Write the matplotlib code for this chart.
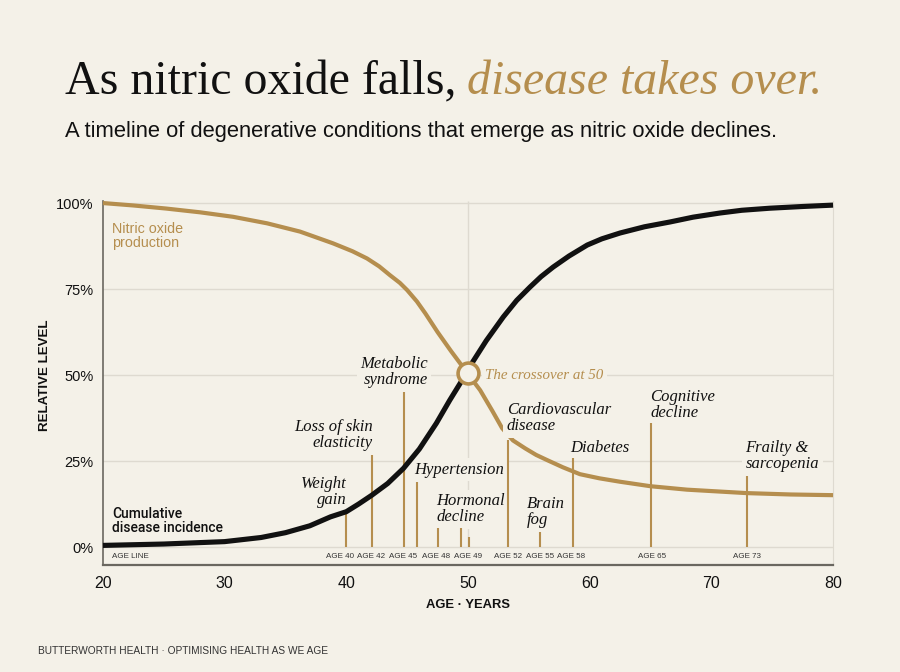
import matplotlib.pyplot as plt

# colours
bg = '#F4F1E8'
gold = '#B58E4E'
ink = '#111111'
grid = '#DEDAD0'

# nitric oxide production (% of peak)
no_age = [20, 22.5, 25.2, 28, 30.7, 33.5, 36.2, 38.9, 40.5, 41.7, 42.7, 43.6, 44.4, 45,
          45.8, 46.5, 47.5, 48.6, 49.4, 50, 51, 52, 52.8, 53.7, 54.7, 55.6, 56.5, 57.8,
          59.2, 60.8, 62.5, 65, 68, 72.9, 76.5, 80]
no_level = [100, 99.3, 98.4, 97.3, 96.0, 94.1, 91.7, 88.3, 86.0, 83.9, 81.6, 79.0, 76.8,
            74.7, 71.4, 67.9, 62.5, 57.0, 53.2, 50.3, 45.6, 39.6, 34.6, 31.0, 28.7, 26.8,
            25.3, 23.2, 21.2, 20.0, 19.0, 17.7, 16.7, 15.7, 15.3, 15.1]

# cumulative disease incidence (%)
inc_age = [20, 25, 30, 33, 35, 37, 38.7, 40, 41, 42.1, 43.4, 44.7, 46, 47.4, 48.5, 49.6,
           50.4, 51.5, 52.9, 54, 55.1, 56, 57, 58.3, 59.8, 61, 62.5, 64.5, 66.6, 68.5,
           70.7, 72.5, 74.8, 77.5, 80]
inc_level = [0.5, 0.9, 1.6, 2.8, 4.2, 6.2, 8.8, 10.3, 12.5, 15.1, 18.5, 22.9, 28.5, 36.0,
             42.7, 49.0, 53.9, 60.0, 66.9, 71.7, 75.6, 78.6, 81.4, 84.6, 87.8, 89.6, 91.3,
             93.1, 94.5, 95.9, 97.1, 97.9, 98.5, 99.0, 99.4]

cross_age = 50
cross_level = 50.5

# onset markers (stems)
marker_x = [40.0, 42.1, 44.7, 45.8, 47.5, 49.4, 50.1, 53.3, 55.9, 58.6, 65.0, 72.9]
marker_top = [10.8, 26.7, 45.0, 18.9, 5.5, 5.5, 2.9, 31.0, 4.4, 25.9, 36.0, 20.6]

# age band labels under the curves
band_x = [39.48, 42.07, 44.70, 47.41, 50.04, 53.33, 55.92, 58.51, 65.10, 72.91]
band_text = ['AGE 40', 'AGE 42', 'AGE 45', 'AGE 48', 'AGE 49', 'AGE 52', 'AGE 55',
             'AGE 58', 'AGE 65', 'AGE 73']

# condition labels
event_text = ['Weight\ngain', 'Loss of skin\nelasticity', 'Metabolic\nsyndrome',
              'Hypertension', 'Hormonal\ndecline', 'Cardiovascular\ndisease',
              'Brain\nfog', 'Diabetes', 'Cognitive\ndecline', 'Frailty &\nsarcopenia']
event_x = [40.05, 42.2, 46.7, 45.6, 47.4, 53.2, 54.8, 58.4, 65.0, 72.8]
event_y = [16.1, 32.6, 50.9, 22.5, 11.0, 37.5, 10.3, 28.8, 41.3, 26.5]
event_ha = ['right', 'right', 'right', 'left', 'left', 'left', 'left', 'left', 'left', 'left']

sans = ['Liberation Sans']
serif = ['Liberation Serif']

fig = plt.figure(figsize=(9, 6.72), dpi=100, facecolor=bg)
ax = fig.add_axes([0.1144, 0.1592, 0.8112, 0.5412])
ax.set_facecolor(bg)
ax.set_xlim(20, 80)
ax.set_ylim(-5.2, 100.5)

for yv in [0, 25, 50, 75, 100]:
    ax.axhline(yv, color=grid, lw=1, zorder=0)
ax.vlines(50, 0, 100.5, color=grid, lw=1, zorder=0)

ax.spines['top'].set_visible(False)
ax.spines['right'].set_color(grid)
ax.spines['left'].set_color('#6A6760')
ax.spines['left'].set_linewidth(1.2)
ax.spines['bottom'].set_color('#6A6760')
ax.spines['bottom'].set_linewidth(1.6)

ax.set_yticks([0, 25, 50, 75, 100])
ax.set_yticklabels(['0%', '25%', '50%', '75%', '100%'], family=sans, fontsize=10.5, color=ink)
ax.set_xticks([20, 30, 40, 50, 60, 70, 80])
ax.set_xticklabels(['20', '30', '40', '50', '60', '70', '80'], family=sans, fontsize=11.5, color=ink)
ax.tick_params(axis='y', length=0, pad=7)
ax.tick_params(axis='x', length=0, pad=8)

# stems
ax.vlines(marker_x, 0, marker_top, color=gold, lw=1.5, zorder=4.5)

# curves
ax.plot(no_age, no_level, color=gold, lw=3.0, solid_capstyle='butt', zorder=3, clip_on=False)
ax.plot(inc_age, inc_level, color=ink, lw=3.7, solid_capstyle='butt', zorder=5, clip_on=False)
ax.plot(cross_age, cross_level, 'o', ms=15, mfc=bg, mec=gold, mew=2.6, zorder=6)

box = dict(facecolor=bg, edgecolor='none', pad=2.5)
for t, x, y, ha in zip(event_text, event_x, event_y, event_ha):
    ax.text(x, y, t, ha=ha, va='center', family=serif, style='italic', fontsize=12,
            color=ink, linespacing=1.0, bbox=box, zorder=4)

ax.text(51.4, 50, 'The crossover at 50', ha='left', va='center', family=serif,
        style='italic', fontsize=10.8, color=gold, bbox=box, zorder=7)

for x, t in zip(band_x, band_text):
    ax.text(x, -2.6, t, ha='center', va='center', family=sans, fontsize=5.8, color='#333333')
ax.text(20.74, -2.6, 'AGE LINE', ha='left', va='center', family=sans, fontsize=5.8, color='#333333')

ax.text(20.74, 90.4, 'Nitric oxide\nproduction', ha='left', va='center', family=sans,
        fontsize=10.3, color=gold, linespacing=1.05)
ax.text(20.74, 7.6, 'Cumulative\ndisease incidence', ha='left', va='center',
        family=['Roboto', 'Liberation Sans'], fontweight='medium',
        fontsize=10, color=ink, linespacing=1.05)

fig.text(45 / 900, 1 - 375 / 672, 'RELATIVE LEVEL', rotation=90, ha='center', va='center',
         family=sans, fontsize=9.6, fontweight='bold', color=ink)
fig.text(468 / 900, 1 - 605 / 672, 'AGE · YEARS', ha='center', va='center',
         family=sans, fontsize=9.4, fontweight='bold', color=ink)

# title in two parts
t1 = fig.text(0.072, 1 - 94 / 672, 'As nitric oxide falls,', ha='left', va='baseline',
              family=serif, fontsize=34.5, color=ink)
fig.canvas.draw()
bb = t1.get_window_extent()
fig.text((bb.x1 + 11) / fig.bbox.width, 1 - 94 / 672, 'disease takes over.', ha='left',
         va='baseline', family=serif, style='italic', fontsize=34.5, color=gold)

fig.text(0.072, 1 - 137 / 672,
         'A timeline of degenerative conditions that emerge as nitric oxide declines.',
         ha='left', va='baseline', family=sans, fontsize=15.8, color=ink)

fig.text(38 / 900, 1 - 651 / 672, 'BUTTERWORTH HEALTH · OPTIMISING HEALTH AS WE AGE',
         ha='left', va='center', family=sans, fontsize=7.3, color='#333333')

fig.savefig('out.png', dpi=100, facecolor=bg)
